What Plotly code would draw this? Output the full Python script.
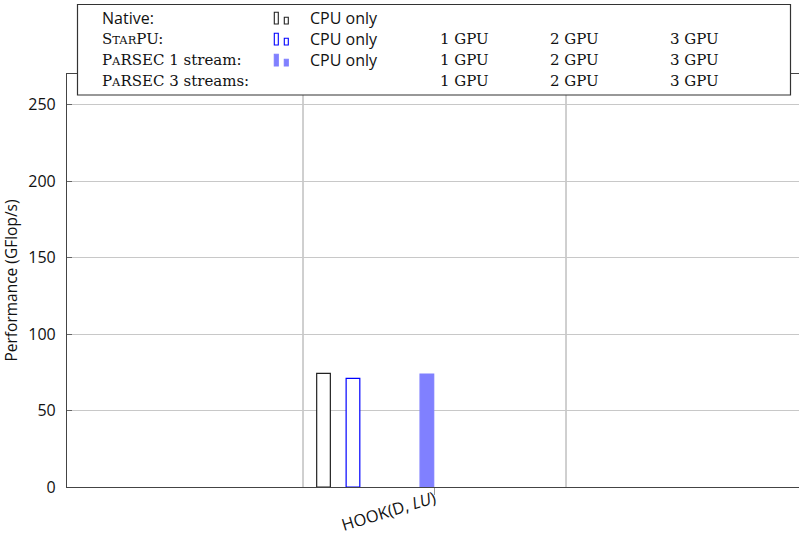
import plotly.graph_objects as go

# --- data -------------------------------------------------------------
categories = ["HOOK(D, <i>LU</i>)"]
native_cpu = [74.3]
starpu_cpu = [71.0]
parsec1_cpu = [73.8]

# --- geometry ---------------------------------------------------------
W, H = 799, 535
L, R, T, B = 67, 0, 74, 48
PW, PH = W - L - R, H - T - B
X_UNIT = 263.0            # pixels per category unit
CAT_PX = 434.5            # pixel position of the category centre
x_lo = (L - CAT_PX) / X_UNIT
x_hi = x_lo + PW / X_UNIT

BAR_W = 0.052
SANS = "Open Sans"
SERIF = "DejaVu Serif"


def px(x):
    return (x - L) / PW


def py(y):
    return (H - B - y) / PH


fig = go.Figure()
xs = list(range(len(categories)))

bar_specs = [
    (native_cpu, -0.422, "white", "#222222"),
    (starpu_cpu, -0.310, "white", "#0000ff"),
    (parsec1_cpu, -0.029, "#8080ff", "#8080ff"),
]
for vals, shift, fill, edge in bar_specs:
    fig.add_trace(go.Bar(
        x=xs, y=vals, width=BAR_W, offset=shift - BAR_W / 2,
        marker=dict(color=fill, line=dict(color=edge, width=1.2)),
        showlegend=False, hoverinfo="skip",
    ))

shapes = []
# vertical separators between category groups
for xv in (-0.5, 0.5):
    shapes.append(dict(type="line", xref="x", yref="paper", x0=xv, x1=xv,
                       y0=0, y1=1, line=dict(color="#a0a0a0", width=1),
                       layer="below"))

# legend frame
shapes.append(dict(type="rect", xref="paper", yref="paper",
                   x0=px(77.5), x1=px(790.5), y0=py(95), y1=py(4.5),
                   line=dict(color="#333333", width=1.2), fillcolor="white",
                   layer="above"))

# legend glyphs: a tall and a short bar per series
glyphs = [
    (12.3, "white", "#222222"),
    (33.3, "white", "#0000ff"),
    (54.3, "#8080ff", "#8080ff"),
]
for top, fill, edge in glyphs:
    bottom = top + 11.7
    for x0, x1, t in ((274.3, 278.3, top), (284.3, 288.3, top + 5)):
        shapes.append(dict(type="rect", xref="paper", yref="paper",
                           x0=px(x0), x1=px(x1), y0=py(bottom), y1=py(t),
                           line=dict(color=edge, width=1.1), fillcolor=fill,
                           layer="above"))

SM = "<span style='font-size:11.5px'>"
rows_y = [17.7, 39, 60, 81]
row_labels = [
    ("Native:", SANS, 16),
    ("S" + SM + "TAR</span>PU:", SERIF, 15),
    ("P" + SM + "A</span>RSEC 1 stream:", SERIF, 15),
    ("P" + SM + "A</span>RSEC 3 streams:", SERIF, 15),
]
annotations = []


def label(text, x, y, family, size):
    annotations.append(dict(text=text, xref="paper", yref="paper",
                            x=px(x), y=py(y), xanchor="left", yanchor="middle",
                            showarrow=False,
                            font=dict(family=family, size=size, color="#111")))


for (txt, fam, sz), y in zip(row_labels, rows_y):
    label(txt, 100, y, fam, sz)
for y in rows_y[:3]:
    label("CPU only", 308, y, SANS, 16)
for y in rows_y[1:]:
    label("1 GPU", 438, y, SERIF, 15)
    label("2 GPU", 548, y, SERIF, 15)
    label("3 GPU", 668, y, SERIF, 15)

fig.update_layout(
    width=W, height=H,
    margin=dict(l=L, r=R, t=T, b=B, pad=0),
    paper_bgcolor="white", plot_bgcolor="white",
    barmode="overlay",
    shapes=shapes, annotations=annotations,
    font=dict(family=SANS, size=16, color="#111"),
    xaxis=dict(range=[x_lo, x_hi], tickvals=xs, ticktext=categories,
               tickangle=-17, ticks="outside", ticklen=7, tickcolor="#999",
               showgrid=False, zeroline=False, showline=True,
               linecolor="#444", linewidth=1.2, mirror=True,
               automargin=False, ticklabelstandoff=-12,
               tickfont=dict(family=SANS, size=16.5)),
    yaxis=dict(range=[0, 270], dtick=50, ticks="inside", ticklen=5,
               tickcolor="#666", showgrid=True, gridcolor="#c8c8c8",
               zeroline=False, showline=True, linecolor="#444",
               linewidth=1.2, mirror=False, automargin=False,
               ticklabelstandoff=7,
               title=dict(text="Performance (GFlop/s)", standoff=10,
                          font=dict(family=SANS, size=15.5)),
               tickfont=dict(family=SANS, size=16)),
)

fig.write_html("out.html")
